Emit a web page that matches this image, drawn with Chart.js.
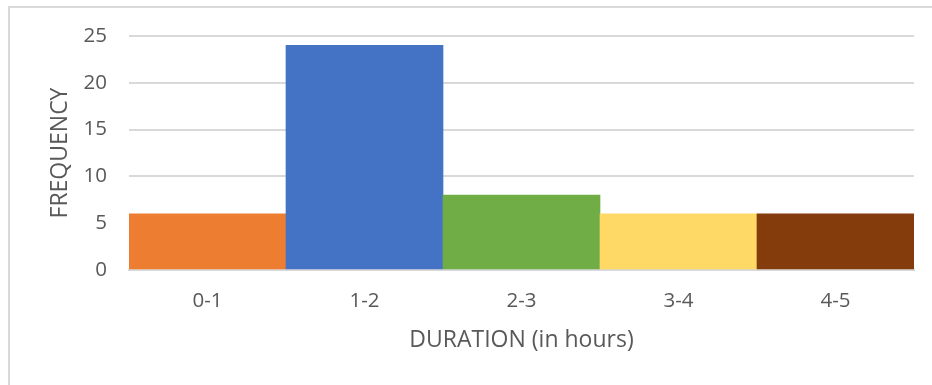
<!DOCTYPE html>
<html>
<head>
<meta charset="utf-8">
<script src="https://cdn.jsdelivr.net/npm/chart.js@4"></script>
<style>
  html, body { margin: 0; padding: 0; background: #ffffff; }
  #wrap { width: 932px; height: 385px; position: relative; }
</style>
</head>
<body>
<div id="wrap"><canvas id="c" width="932" height="385"></canvas></div>
<script>
// Duration bins and how many fall into each
const durations = ['0-1', '1-2', '2-3', '3-4', '4-5'];
const frequency = [6, 24, 8, 6, 6];
const barColors = ['#ED7D31', '#4472C4', '#70AD47', '#FFD966', '#843C0C'];
const yTicks = [0, 5, 10, 15, 20, 25];

const textColor = '#595959';
const gridColor = '#d9d9d9';
const fontFamily = '"Open Sans", "Noto Sans", sans-serif';
const tickFont = { family: fontFamily, size: 20.5 };
const titleFont = { family: fontFamily, size: 23 };

// Light frame around the whole chart
const framePlugin = {
  id: 'frame',
  beforeDraw(chart) {
    const ctx = chart.ctx;
    ctx.save();
    ctx.fillStyle = '#ffffff';
    ctx.fillRect(0, 0, chart.width, chart.height);
    ctx.strokeStyle = gridColor;
    ctx.lineWidth = 2;
    ctx.strokeRect(9, 7, chart.width + 20, chart.height + 20);
    ctx.restore();
  }
};

new Chart(document.getElementById('c'), {
  type: 'bar',
  data: {
    labels: durations,
    datasets: [{
      data: frequency,
      backgroundColor: barColors,
      borderWidth: 0,
      barPercentage: 1.0,
      categoryPercentage: 1.0
    }]
  },
  options: {
    responsive: false,
    animation: false,
    layout: { padding: { top: 36, right: 18, bottom: 31, left: 10 } },
    plugins: {
      legend: { display: false },
      tooltip: { enabled: false }
    },
    scales: {
      x: {
        grid: { display: false, drawTicks: false },
        border: { display: true, color: gridColor, width: 2 },
        ticks: { color: textColor, font: tickFont, padding: 19 },
        title: {
          display: true,
          text: 'DURATION (in hours)',
          color: textColor,
          font: titleFont,
          padding: { top: 0, bottom: 0 }
        },
        afterFit(scale) { scale.height = 84; }
      },
      y: {
        min: 0,
        max: 25,
        afterBuildTicks(scale) { scale.ticks = yTicks.map(v => ({ value: v })); },
        grid: { color: gridColor, lineWidth: 2, drawTicks: false },
        border: { display: false },
        ticks: { color: textColor, font: tickFont, padding: 22 },
        title: {
          display: true,
          text: 'FREQUENCY',
          color: textColor,
          font: titleFont,
          padding: { top: 37, bottom: 0 }
        },
        afterFit(scale) { scale.width = 119; }
      }
    }
  },
  plugins: [framePlugin]
});
</script>
</body>
</html>
